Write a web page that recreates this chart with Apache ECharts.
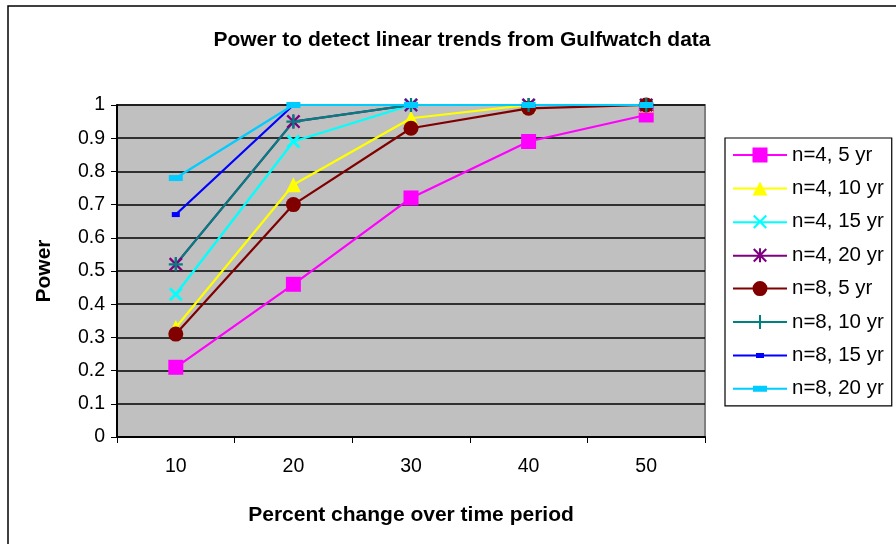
<!DOCTYPE html>
<html><head><meta charset="utf-8">
<script src="https://cdn.jsdelivr.net/npm/echarts@6/dist/echarts.min.js"></script>
<style>html,body{margin:0;padding:0;background:#fff}#c{width:896px;height:544px}</style>
</head><body><div id="c"></div>
<script>
const categories = ['10', '20', '30', '40', '50'];
const seriesNames = ['n=4, 5 yr', 'n=4, 10 yr', 'n=4, 15 yr', 'n=4, 20 yr', 'n=8, 5 yr', 'n=8, 10 yr', 'n=8, 15 yr', 'n=8, 20 yr'];
const n4y5  = [0.21, 0.46, 0.72, 0.89, 0.97];
const n4y10 = [0.33, 0.76, 0.96, 1.00, 1.00];
const n4y15 = [0.43, 0.89, 1.00, 1.00, 1.00];
const n4y20 = [0.52, 0.95, 1.00, 1.00, 1.00];
const n8y5  = [0.31, 0.70, 0.93, 0.99, 1.00];
const n8y10 = [0.52, 0.95, 1.00, 1.00, 1.00];
const n8y15 = [0.67, 1.00, 1.00, 1.00, 1.00];
const n8y20 = [0.78, 1.00, 1.00, 1.00, 1.00];
const seriesData = [n4y5, n4y10, n4y15, n4y20, n8y5, n8y10, n8y15, n8y20];

const FONT = 'Liberation Sans, Arial, sans-serif';
const X_PATH = 'path://M0,1.5 L1.5,0 L5,3.5 L8.5,0 L10,1.5 L6.5,5 L10,8.5 L8.5,10 L5,6.5 L1.5,10 L0,8.5 L3.5,5 Z';
const PLUS_PATH = 'path://M4.2,0 L5.8,0 L5.8,4.2 L10,4.2 L10,5.8 L5.8,5.8 L5.8,10 L4.2,10 L4.2,5.8 L0,5.8 L0,4.2 L4.2,4.2 Z';
const STAR_PATH = 'path://M0,1.2 L1.2,0 L5,3.8 L8.8,0 L10,1.2 L6.2,5 L10,8.8 L8.8,10 L5,6.2 L1.2,10 L0,8.8 L3.8,5 Z M4.3,0 L5.7,0 L5.7,10 L4.3,10 Z';

// legend icons: a 54 x 15 box, line through the middle plus the marker
const LINE = 'M0,6.5 L54,6.5 L54,8.5 L0,8.5 Z ';
const legendIcons = [
  'path://' + LINE + 'M19.5,0 L34.5,0 L34.5,15 L19.5,15 Z',
  'path://' + LINE + 'M27,0.5 L34.5,14.5 L19.5,14.5 Z',
  'path://' + LINE + 'M20,1.5 L21.5,0 L27,5.5 L32.5,0 L34,1.5 L28.5,7 L34,12.5 L32.5,14 L27,8.5 L21.5,14 L20,12.5 L25.5,7 Z',
  'path://' + LINE + 'M20,1.5 L21.5,0 L27,5.5 L32.5,0 L34,1.5 L28.5,7 L34,12.5 L32.5,14 L27,8.5 L21.5,14 L20,12.5 L25.5,7 Z M26,0 L28,0 L28,14 L26,14 Z',
  'path://' + LINE + 'M19.5,7.5 A7.5,7.5 0 1,1 34.5,7.5 A7.5,7.5 0 1,1 19.5,7.5 Z',
  'path://' + LINE + 'M26,0.5 L28,0.5 L28,6.5 L34,6.5 L34,8.5 L28,8.5 L28,14.5 L26,14.5 L26,8.5 L20,8.5 L20,6.5 L26,6.5 Z',
  'path://' + LINE + 'M23,5 L31,5 L31,10 L23,10 Z',
  'path://' + LINE + 'M20,4.5 L34,4.5 L34,10.5 L20,10.5 Z'
];

const styles = [
  {color: '#FF00FF', symbol: 'rect', size: 15},
  {color: '#FFFF00', symbol: 'triangle', size: 15},
  {color: '#00FFFF', symbol: X_PATH, size: 14},
  {color: '#800080', symbol: STAR_PATH, size: 14},
  {color: '#800000', symbol: 'circle', size: 15},
  {color: '#008080', symbol: PLUS_PATH, size: 14},
  {color: '#0000FF', symbol: 'rect', size: [8, 5]},
  {color: '#00CCFF', symbol: 'rect', size: [14, 6]}
];

const series = seriesNames.map((name, i) => ({
  name: name,
  type: 'line',
  data: seriesData[i],
  symbol: styles[i].symbol,
  symbolSize: styles[i].size,
  showAllSymbol: true,
  lineStyle: {color: styles[i].color, width: 2.2},
  itemStyle: {color: styles[i].color, borderWidth: 0},
  emphasis: {disabled: true},
  animation: false
}));

const chart = echarts.init(document.getElementById('c'), null, {renderer: 'canvas'});
chart.setOption({
  animation: false,
  backgroundColor: '#FFFFFF',
  title: {
    text: 'Power to detect linear trends from Gulfwatch data',
    left: 457, top: 25, textAlign: 'center',
    textStyle: {fontFamily: FONT, fontSize: 21, fontWeight: 'bold', color: '#000'}
  },
  graphic: [{
    type: 'rect', z: -1, silent: true,
    shape: {x: 8, y: 6, width: 1000, height: 700},
    style: {fill: 'none', stroke: '#000', lineWidth: 1.5}
  }],
  legend: {
    orient: 'vertical',
    left: 725, top: 138,
    padding: [6.5, 8, 6.5, 8],
    itemWidth: 54, itemHeight: 15, itemGap: 12.4,
    symbolKeepAspect: true,
    borderColor: '#000', borderWidth: 1.2,
    backgroundColor: '#fff',
    textStyle: {fontFamily: FONT, fontSize: 20.5, color: '#000'},
    data: seriesNames.map((n, i) => ({name: n, icon: legendIcons[i]}))
  },
  grid: {
    left: 117, top: 105, width: 588, height: 332,
    show: true, backgroundColor: '#C0C0C0', borderColor: '#808080', borderWidth: 2
  },
  xAxis: {
    type: 'category', data: categories, boundaryGap: true,
    name: 'Percent change over time period', nameLocation: 'middle', nameGap: 68,
    nameTextStyle: {fontFamily: FONT, fontSize: 21, fontWeight: 'bold', color: '#000'},
    axisLine: {lineStyle: {color: '#000', width: 2}},
    axisTick: {show: true, length: 6, inside: false, lineStyle: {color: '#000', width: 1}},
    axisLabel: {fontFamily: FONT, fontSize: 19.5, color: '#000', margin: 20},
    splitLine: {show: false}
  },
  yAxis: {
    type: 'value', min: 0, max: 1, interval: 0.1,
    name: 'Power', nameLocation: 'middle', nameGap: 62, nameRotate: 90,
    nameTextStyle: {fontFamily: FONT, fontSize: 21, fontWeight: 'bold', color: '#000'},
    axisLine: {show: true, lineStyle: {color: '#000', width: 2}},
    axisTick: {show: true, length: 6, lineStyle: {color: '#000', width: 1}},
    axisLabel: {fontFamily: FONT, fontSize: 19.5, color: '#000', margin: 12,
      formatter: v => String(Math.round(v * 10) / 10)},
    splitLine: {show: true, lineStyle: {color: '#000', width: 1.5}}
  },
  series: series
});
</script></body></html>
